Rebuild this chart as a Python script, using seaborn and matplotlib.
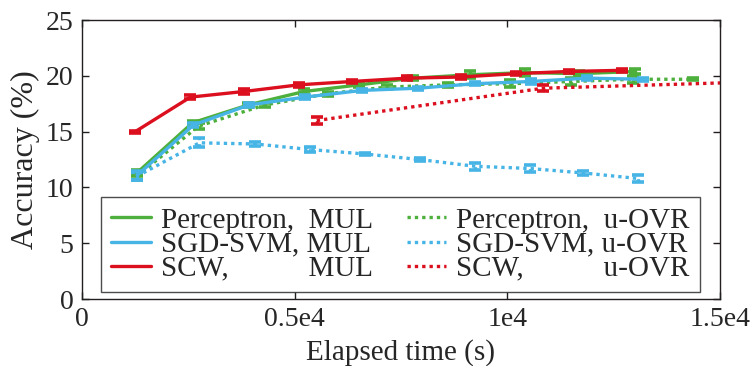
import numpy as np
import seaborn as sns
import matplotlib.pyplot as plt

# elapsed time (s) and accuracy (%) per method
perc_mul_t = [1290, 2600, 3910, 5220, 6520, 7790, 9120, 10420, 11690, 13000]
perc_mul_acc = [11.3, 15.8, 17.4, 18.6, 19.2, 19.8, 20.1, 20.3, 20.2, 20.4]
perc_mul_err = [0.3, 0.2, 0.2, 0.2, 0.2, 0.2, 0.3, 0.3, 0.2, 0.2]

sgd_mul_t = [1300, 2620, 3930, 5240, 6580, 7910, 9240, 10550, 11870, 13200]
sgd_mul_acc = [11.1, 15.6, 17.4, 18.1, 18.7, 18.9, 19.3, 19.5, 19.8, 19.7]
sgd_mul_err = [0.4, 0.2, 0.15, 0.15, 0.15, 0.15, 0.15, 0.2, 0.2, 0.15]

scw_mul_t = [1250, 2550, 3800, 5100, 6350, 7650, 8900, 10200, 11450, 12700]
scw_mul_acc = [15.0, 18.1, 18.6, 19.2, 19.5, 19.8, 19.9, 20.2, 20.4, 20.5]
scw_mul_err = [0.1, 0.15, 0.25, 0.15, 0.15, 0.2, 0.15, 0.15, 0.1, 0.15]

perc_ovr_t = [1290, 2740, 4300, 5780, 7170, 8610, 10060, 11490, 12960, 14370]
perc_ovr_acc = [11.0, 15.5, 17.4, 18.4, 19.0, 19.2, 19.3, 19.5, 19.7, 19.7]
perc_ovr_err = [0.3, 0.3, 0.2, 0.2, 0.2, 0.2, 0.3, 0.3, 0.3, 0.1]

sgd_ovr_t = [1290, 2760, 4070, 5360, 6650, 7950, 9240, 10530, 11790, 13080]
sgd_ovr_acc = [11.0, 14.0, 13.9, 13.4, 13.0, 12.5, 11.9, 11.7, 11.3, 10.8]
sgd_ovr_err = [0.3, 0.4, 0.15, 0.2, 0.1, 0.15, 0.3, 0.3, 0.2, 0.3]

scw_ovr_t = [5520, 10850, 16170]
scw_ovr_acc = [16.0, 18.9, 19.5]
scw_ovr_err = [0.3, 0.25, 0.2]

GREEN = "#4DAF3C"
BLUE = "#47B4E6"
RED = "#DC0F1E"

sns.set_style("ticks")
plt.rcParams["font.family"] = ["Liberation Serif", "DejaVu Serif"]

fig = plt.figure(figsize=(7.55, 3.66), dpi=100)
ax = fig.add_axes([0.1086, 0.183, 0.845, 0.762])

dotted = (0, (1.0, 1.2))
series = [
    (perc_mul_t, perc_mul_acc, perc_mul_err, GREEN, "-", "Perceptron,  MUL"),
    (sgd_mul_t, sgd_mul_acc, sgd_mul_err, BLUE, "-", "SGD-SVM, MUL"),
    (scw_mul_t, scw_mul_acc, scw_mul_err, RED, "-", "SCW,           MUL"),
    (perc_ovr_t, perc_ovr_acc, perc_ovr_err, GREEN, dotted, "Perceptron,  u-OVR"),
    (sgd_ovr_t, sgd_ovr_acc, sgd_ovr_err, BLUE, dotted, "SGD-SVM, u-OVR"),
    (scw_ovr_t, scw_ovr_acc, scw_ovr_err, RED, dotted, "SCW,           u-OVR"),
]

# dotted series drawn first so the solid ones sit on top
for t, acc, err, c, ls, label in series[3:] + series[:3]:
    sns.lineplot(x=t, y=acc, ax=ax, color=c, linestyle=ls, linewidth=2.4,
                 label=label, sort=False)
    eb = ax.errorbar(t, acc, yerr=err, fmt="none", ecolor=c, elinewidth=2.4,
                     capsize=4, capthick=2.6)
    if ls != "-":
        for lc in eb[2]:
            lc.set_linestyle(dotted)

ax.set_xlim(0, 15000)
ax.set_ylim(0, 25)
ax.set_xticks([0, 5000, 10000, 15000])
ax.set_xticklabels(["0", "0.5e4", "1e4", "1.5e4"])
ax.set_yticks([0, 5, 10, 15, 20, 25])
ax.tick_params(direction="in", top=True, right=True, length=5, width=1,
               labelsize=20, color="#231f20", pad=6)
for s in ax.spines.values():
    s.set_color("#231f20")
    s.set_linewidth(1.0)
ax.set_xlabel("Elapsed time (s)", fontsize=21, labelpad=5)
ax.set_ylabel("Accuracy (%)", fontsize=23, labelpad=4)

handles, labels = ax.get_legend_handles_labels()
order = [3, 4, 5, 0, 1, 2]
leg = ax.legend([handles[i] for i in order], [labels[i] for i in order],
                ncol=2, loc="lower left", bbox_to_anchor=(0.03, 0.025),
                fontsize=21, frameon=True, fancybox=False, edgecolor="#231f20",
                handlelength=1.35, handletextpad=0.35, labelspacing=-0.08,
                borderpad=0.35, columnspacing=1.15, borderaxespad=0)
leg.get_frame().set_linewidth(1.0)

fig.savefig("out.png", dpi=100)
